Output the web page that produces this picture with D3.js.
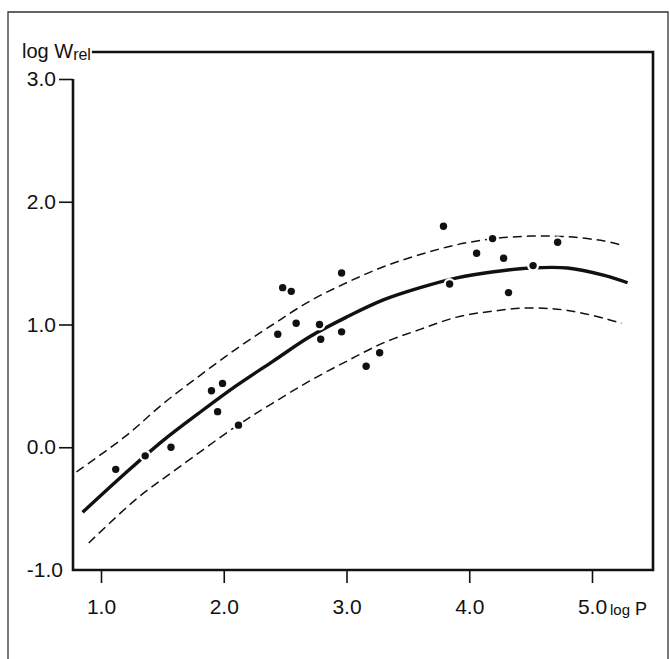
<!DOCTYPE html>
<html>
<head>
<meta charset="utf-8">
<script src="https://cdn.jsdelivr.net/npm/d3@7"></script>
<style>
  body { margin: 0; background: #fff; }
  svg { display: block; font-family: "Liberation Sans", Arial, sans-serif; }
</style>
</head>
<body>
<svg id="chart"></svg>
<script>
// observed points (log P, log Wrel)
var pointX = [1.12, 1.36, 1.57, 1.90, 1.99, 1.95, 2.12, 2.48, 2.55, 2.44, 2.59, 2.78, 2.79,
              2.96, 2.96, 3.16, 3.27, 3.79, 4.19, 4.06, 4.28, 3.84, 4.32, 4.52, 4.72];
var pointY = [-0.18, -0.07, 0.00, 0.46, 0.52, 0.29, 0.18, 1.30, 1.27, 0.92, 1.01, 1.00, 0.88,
              0.94, 1.42, 0.66, 0.77, 1.80, 1.70, 1.58, 1.54, 1.33, 1.26, 1.48, 1.67];

// fitted curve
var fitX = [0.85, 1.2, 1.5, 1.8, 2.1, 2.4, 2.7, 3.0, 3.3, 3.6, 3.9, 4.2, 4.5, 4.8, 5.1, 5.29];
var fitY = [-0.53, -0.21, 0.05, 0.28, 0.50, 0.70, 0.90, 1.06, 1.20, 1.30, 1.38, 1.43, 1.46, 1.46, 1.40, 1.34];

// confidence band
var upperX = [0.80, 1.2, 1.5, 1.8, 2.1, 2.4, 2.7, 3.0, 3.3, 3.6, 3.9, 4.2, 4.5, 4.8, 5.1, 5.23];
var upperY = [-0.20, 0.09, 0.35, 0.58, 0.80, 1.00, 1.19, 1.34, 1.47, 1.57, 1.65, 1.70, 1.72, 1.715, 1.68, 1.65];
var lowerX = [0.90, 1.29, 1.64, 2.1, 2.4, 2.7, 3.0, 3.3, 3.6, 3.9, 4.2, 4.5, 4.8, 5.1, 5.24];
var lowerY = [-0.78, -0.42, -0.16, 0.17, 0.36, 0.54, 0.70, 0.85, 0.96, 1.06, 1.11, 1.135, 1.115, 1.05, 1.01];

var xTicks = [1, 2, 3, 4, 5];
var yTicks = [-1, 0, 1, 2, 3];
var xTickLabels = ['1.0', '2.0', '3.0', '4.0', '5.0'];
var yTickLabels = ['-1.0', '0.0', '1.0', '2.0', '3.0'];

var width = 670, height = 659;
var mLeft = 73, mRight = 653, mTop = 52, mBottom = 570;

var svg = d3.select('#chart')
    .attr('width', width)
    .attr('height', height);

svg.append('rect').attr('width', width).attr('height', height).attr('fill', '#fff');

// outer frame
svg.append('path')
    .attr('d', 'M8,' + height + 'V12H668V' + height)
    .attr('fill', 'none')
    .attr('stroke', '#333')
    .attr('stroke-width', 1.3);

var x = d3.scaleLinear().domain([1, 5]).range([101, 592]);
var y = d3.scaleLinear().domain([-1, 3]).range([570, 79]);

// y axis
var yAxis = svg.append('g')
    .attr('transform', 'translate(' + mLeft + ',0)')
    .call(d3.axisLeft(y).tickValues(yTicks).tickSize(14).tickPadding(4)
        .tickFormat(function (d, i) { return yTickLabels[i]; }));
yAxis.select('.domain').remove();
yAxis.selectAll('line').attr('stroke', '#111').attr('stroke-width', 1.6)
    .filter(function (d) { return d === -1; }).remove();
yAxis.selectAll('text')
    .attr('font-size', 21)
    .attr('fill', '#111')
    .attr('x', function (d) { return d === -1 ? -10 : -17; });

// x axis
var xAxis = svg.append('g')
    .attr('transform', 'translate(0,' + mBottom + ')')
    .call(d3.axisBottom(x).tickValues(xTicks).tickSize(13).tickPadding(16)
        .tickFormat(function (d, i) { return xTickLabels[i]; }));
xAxis.select('.domain').remove();
xAxis.selectAll('line').attr('stroke', '#111').attr('stroke-width', 1.6);
xAxis.selectAll('text').attr('font-size', 21).attr('fill', '#111');

// y label
var yLab = svg.append('text')
    .attr('x', 22)
    .attr('y', 58)
    .attr('fill', '#111')
    .attr('font-size', 20);
yLab.append('tspan').text('log W');
yLab.append('tspan').attr('font-size', 16).attr('dy', 2).text('rel');
var labEnd = 22 + yLab.node().getComputedTextLength() + 1;

// plot frame
svg.append('path')
    .attr('d', 'M' + labEnd + ',' + mTop + 'H' + mRight + 'V' + mBottom + 'H' + mLeft + 'V' + y(3))
    .attr('fill', 'none')
    .attr('stroke', '#111')
    .attr('stroke-width', 2.6);

// x label
var xLab = svg.append('text')
    .attr('x', 610)
    .attr('y', 615)
    .attr('fill', '#111')
    .attr('font-size', 18);
xLab.append('tspan').attr('font-size', 15).text('log');
xLab.append('tspan').text(' P');

var line = d3.line()
    .x(function (d) { return x(d[0]); })
    .y(function (d) { return y(d[1]); })
    .curve(d3.curveCatmullRom);

svg.append('path')
    .attr('d', line(d3.zip(upperX, upperY)))
    .attr('fill', 'none')
    .attr('stroke', '#111')
    .attr('stroke-width', 1.5)
    .attr('stroke-dasharray', '9,5');

svg.append('path')
    .attr('d', line(d3.zip(lowerX, lowerY)))
    .attr('fill', 'none')
    .attr('stroke', '#111')
    .attr('stroke-width', 1.5)
    .attr('stroke-dasharray', '9,5');

svg.append('path')
    .attr('d', line(d3.zip(fitX, fitY)))
    .attr('fill', 'none')
    .attr('stroke', '#111')
    .attr('stroke-width', 3.4);

// points with white halo
var pts = d3.zip(pointX, pointY);
svg.selectAll('circle.halo')
    .data(pts)
    .enter()
    .append('circle')
    .attr('class', 'halo')
    .attr('cx', function (d) { return x(d[0]); })
    .attr('cy', function (d) { return y(d[1]); })
    .attr('r', 6)
    .attr('fill', '#fff');

svg.selectAll('circle.pt')
    .data(pts)
    .enter()
    .append('circle')
    .attr('class', 'pt')
    .attr('cx', function (d) { return x(d[0]); })
    .attr('cy', function (d) { return y(d[1]); })
    .attr('r', 3.7)
    .attr('fill', '#111');
</script>
</body>
</html>
